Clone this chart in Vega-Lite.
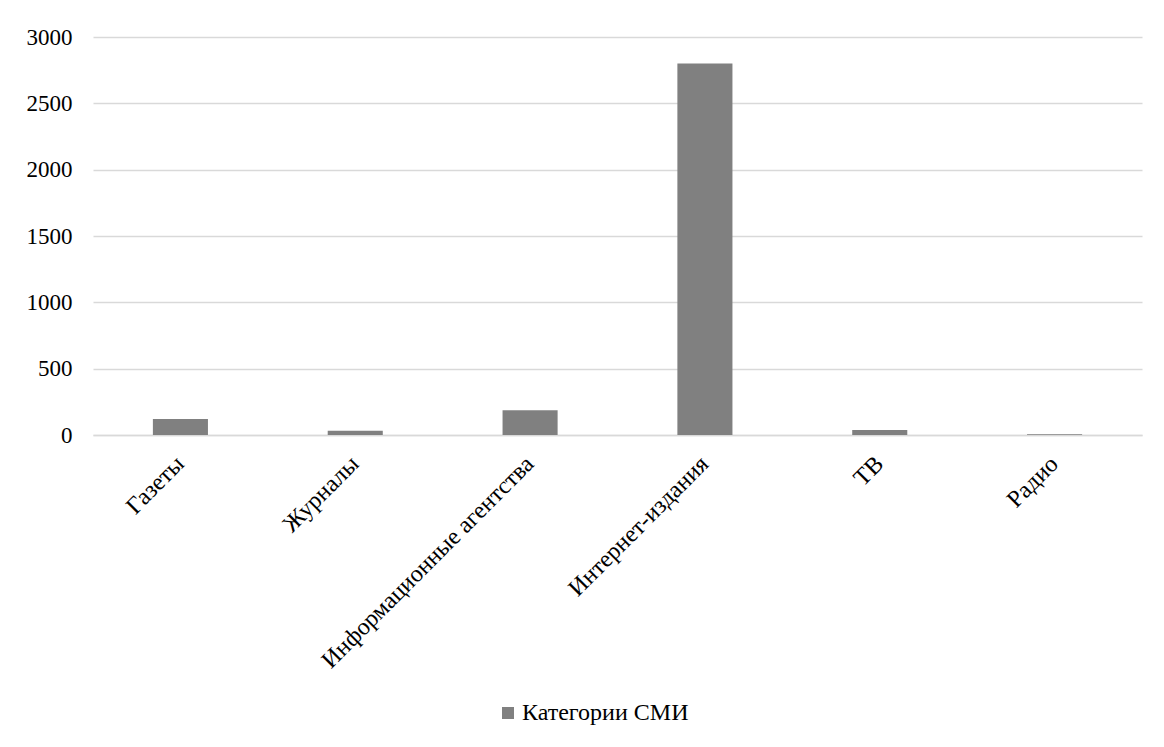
{
  "$schema": "https://vega.github.io/schema/vega-lite/v6.json",
  "width": 1049,
  "height": 398,
  "autosize": {"type": "none"},
  "padding": {"left": 93, "top": 37, "right": 22, "bottom": 312},
  "background": "white",
  "data": {
    "values": [
      {"category": "Газеты", "value": 121, "series": "Категории СМИ"},
      {"category": "Журналы", "value": 32, "series": "Категории СМИ"},
      {"category": "Информационные агентства", "value": 186, "series": "Категории СМИ"},
      {"category": "Интернет-издания", "value": 2800, "series": "Категории СМИ"},
      {"category": "ТВ", "value": 38, "series": "Категории СМИ"},
      {"category": "Радио", "value": 5, "series": "Категории СМИ"}
    ]
  },
  "mark": {"type": "bar"},
  "encoding": {
    "x": {
      "field": "category",
      "type": "nominal",
      "sort": null,
      "scale": {"paddingInner": 0.685, "paddingOuter": 0.3425},
      "axis": {
        "title": null,
        "labelAngle": -45,
        "labelAlign": "right",
        "labelBaseline": "middle",
        "labelFont": "Liberation Serif",
        "labelFontSize": 24,
        "labelColor": "#000000",
        "labelPadding": 25,
        "ticks": false,
        "domainColor": "#d9d9d9",
        "domainWidth": 1.5,
        "labelLimit": 0
      }
    },
    "y": {
      "field": "value",
      "type": "quantitative",
      "scale": {"domain": [0, 3000], "nice": false},
      "axis": {
        "title": null,
        "format": "d",
        "values": [0, 500, 1000, 1500, 2000, 2500, 3000],
        "labelFont": "Liberation Serif",
        "labelFontSize": 23,
        "labelColor": "#000000",
        "labelPadding": 21,
        "ticks": false,
        "domain": false,
        "gridColor": "#d9d9d9",
        "gridWidth": 1.5
      }
    },
    "color": {
      "field": "series",
      "type": "nominal",
      "scale": {"range": ["#808080"]},
      "legend": {
        "title": null,
        "orient": "none",
        "legendX": 403,
        "legendY": 664,
        "symbolType": "square",
        "symbolSize": 144,
        "symbolStrokeWidth": 0,
        "labelFont": "Liberation Serif",
        "labelFontSize": 24,
        "labelColor": "#000000",
        "labelOffset": 2,
        "labelLimit": 0
      }
    }
  },
  "config": {
    "view": {"stroke": null}
  }
}
